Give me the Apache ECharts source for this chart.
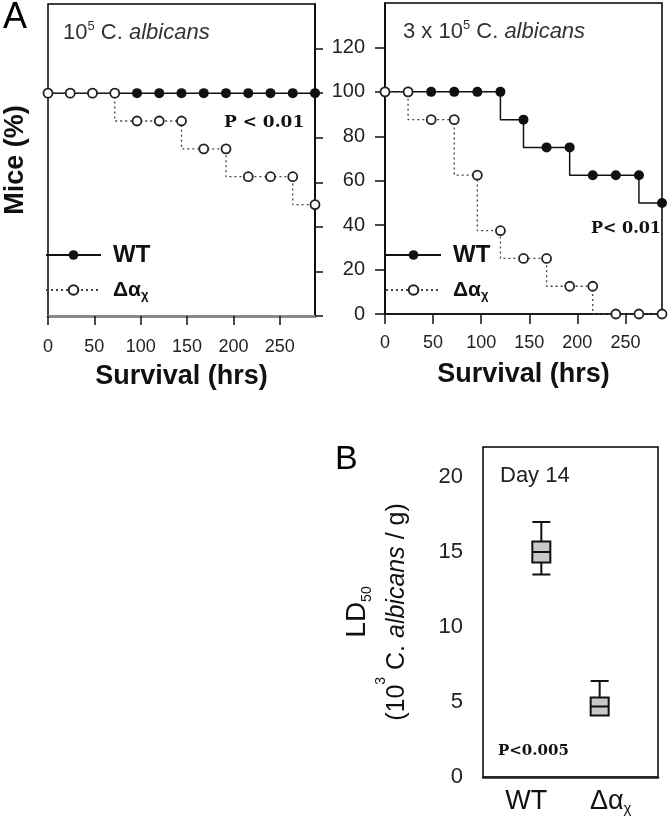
<!DOCTYPE html>
<html><head><meta charset="utf-8">
<script src="https://cdn.jsdelivr.net/npm/echarts@6/dist/echarts.min.js"></script>
<style>html,body{margin:0;padding:0;background:#fff}#c{width:669px;height:824px}</style>
</head><body><div id="c"></div>
<script>
// ---- data ----
const hours = [0, 24, 48, 72, 96, 120, 144, 168, 192, 216, 240, 264, 288];
const leftWT = [100, 100, 100, 100, 100, 100, 100, 100, 100, 100, 100, 100, 100];
const leftDelta = [100, 100, 100, 100, 87.5, 87.5, 87.5, 75, 75, 62.5, 62.5, 62.5, 50];
const rightWT = [100, 100, 100, 100, 100, 100, 87.5, 75, 75, 62.5, 62.5, 62.5, 50];
const rightDelta = [100, 100, 87.5, 87.5, 62.5, 37.5, 25, 25, 12.5, 12.5, 0, 0, 0];
const xTicks = [0, 50, 100, 150, 200, 250];
const yTicksA = [0, 20, 40, 60, 80, 100, 120];
const yTicksB = [0, 5, 10, 15, 20];
const boxCats = ['', 'WT', 'Δα', ''];
const boxWT = [13.5, 14.3, 15, 15.7, 17];
const boxDelta = [4.1, 4.1, 4.7, 5.3, 6.4];
const seriesNames = ['WT', 'Δα'];

const F = 'Liberation Sans, Arial, sans-serif';
const SERIF = 'DejaVu Serif, serif';
const pair = (xs, ys) => xs.map((x, i) => [x, ys[i]]);
const emptyBox = ['-', '-', '-', '-', '-'];

function wtSeries(xi, yi, data) {
  return {
    type: 'line', name: seriesNames[0], xAxisIndex: xi, yAxisIndex: yi,
    data: pair(hours, data), step: 'start', symbol: 'circle', symbolSize: 10,
    lineStyle: { color: '#111', width: 1.5 }, itemStyle: { color: '#111' },
    z: 2, clip: false, animation: false
  };
}
function deltaSeries(xi, yi, data) {
  return {
    type: 'line', name: seriesNames[1], xAxisIndex: xi, yAxisIndex: yi,
    data: pair(hours, data), step: 'start', symbol: 'circle', symbolSize: 9,
    lineStyle: { color: '#444', width: 1.3, type: [2, 3] },
    itemStyle: { color: '#fff', borderColor: '#222', borderWidth: 1.8 },
    z: 3, clip: false, animation: false
  };
}
function legend(left) {
  return {
    data: seriesNames, left: left, top: 243, orient: 'vertical', padding: 0,
    itemWidth: 55, itemHeight: 12, itemGap: 11, selectedMode: false,
    formatter: n => n === 'WT' ? '{w|WT}' : '{d|Δα}{s|χ}',
    textStyle: {
      padding: [0, 0, 0, 7], lineHeight: 24,
      rich: {
        w: { fontFamily: F, fontSize: 24, fontWeight: 'bold', color: '#111', lineHeight: 24 },
        d: { fontFamily: F, fontSize: 21, fontWeight: 'bold', color: '#111', lineHeight: 24 },
        s: { fontFamily: F, fontSize: 13, fontWeight: 'bold', color: '#111', verticalAlign: 'bottom', lineHeight: 14 }
      }
    }
  };
}
const labelStyle = (size) => ({ fontFamily: F, fontSize: size, color: '#222' });
const titleRich = {
  n: { fontFamily: F, fontSize: 22, fontWeight: 'normal', color: '#333', lineHeight: 26 },
  i: { fontFamily: F, fontSize: 22, fontWeight: 'normal', fontStyle: 'italic', color: '#333', lineHeight: 26 },
  sup: { fontFamily: F, fontSize: 13, fontWeight: 'normal', color: '#333', verticalAlign: 'top', lineHeight: 14 }
};

const option = {
  backgroundColor: '#fff',
  animation: false,
  title: [
    { text: 'A', left: 3, top: 0, padding: 0, textStyle: { fontFamily: F, fontSize: 36, fontWeight: 'normal', color: '#000' } },
    { text: 'B', left: 335, top: 443, padding: 0, textStyle: { fontFamily: F, fontSize: 34, fontWeight: 'normal', color: '#000' } },
    { text: '{n|10}{sup|5}{n| C. }{i|albicans}', left: 63, top: 20, padding: 0,
      textStyle: { fontWeight: 'normal', rich: titleRich } },
    { text: '{n|3 x 10}{sup|5}{n| C. }{i|albicans}', left: 403, top: 19, padding: 0,
      textStyle: { fontWeight: 'normal', rich: titleRich } },
    { text: 'P < 0.01', left: 224, top: 114, padding: 0, textStyle: { fontFamily: SERIF, fontSize: 17, fontWeight: 'bold', color: '#111' } },
    { text: 'P< 0.01', left: 591, top: 221, padding: 0, textStyle: { fontFamily: SERIF, fontSize: 16, fontWeight: 'bold', color: '#111' } },
    { text: 'Day 14', left: 500, top: 465, padding: 0, textStyle: { fontFamily: F, fontSize: 22, fontWeight: 'normal', color: '#222' } },
    { text: 'P<0.005', left: 498, top: 744, padding: 0, textStyle: { fontFamily: SERIF, fontSize: 15, fontWeight: 'bold', color: '#111' } }
  ],
  legend: [legend(45), legend(385)],
  grid: [
    { left: 45, top: 4, width: 270, height: 312, show: true, borderColor: '#000', borderWidth: 1.5, backgroundColor: 'transparent' },
    { left: 385, top: 3, width: 277, height: 311, show: true, borderColor: '#000', borderWidth: 1.5, backgroundColor: 'transparent' },
    { left: 483, top: 447, width: 175, height: 330, show: true, borderColor: '#000', borderWidth: 1.5, backgroundColor: 'transparent' }
  ],
  xAxis: [
    { type: 'value', gridIndex: 0, min: 0, max: 288, interval: 50,
      axisLine: { onZero: false, lineStyle: { color: '#8a8a8a', width: 3 } },
      axisTick: { length: 9, customValues: xTicks, lineStyle: { color: '#111', width: 1.5 } },
      axisLabel: Object.assign({ margin: 22, customValues: xTicks }, labelStyle(18)),
      splitLine: { show: false },
      name: 'Survival (hrs)', nameLocation: 'middle', nameGap: 46,
      nameTextStyle: { fontFamily: F, fontSize: 27, fontWeight: 'bold', color: '#111', lineHeight: 30 } },
    { type: 'value', gridIndex: 1, min: 0, max: 288, interval: 50,
      axisLine: { onZero: false, lineStyle: { color: '#111', width: 1.5 } },
      axisTick: { length: 10, customValues: xTicks, lineStyle: { color: '#111', width: 1.5 } },
      axisLabel: Object.assign({ margin: 20, customValues: xTicks }, labelStyle(18)),
      splitLine: { show: false },
      name: 'Survival (hrs)', nameLocation: 'middle', nameGap: 46,
      nameTextStyle: { fontFamily: F, fontSize: 27, fontWeight: 'bold', color: '#111', lineHeight: 30 } },
    { type: 'category', gridIndex: 2, data: boxCats, boundaryGap: false,
      axisLine: { onZero: false, lineStyle: { color: '#222', width: 2.5 } },
      axisTick: { show: false },
      axisLabel: { margin: 11, interval: 0,
        formatter: v => v === 'WT' ? '{w|WT}' : (v === '' ? '' : '{d|Δα}{s|χ}'),
        rich: {
          w: { fontFamily: F, fontSize: 27, color: '#111', lineHeight: 28, padding: [0, 30, 0, 0] },
          d: { fontFamily: F, fontSize: 27, color: '#111', lineHeight: 28, padding: [0, 0, 0, 22] },
          s: { fontFamily: F, fontSize: 15, color: '#111', verticalAlign: 'bottom', lineHeight: 16 } } },
      splitLine: { show: false } }
  ],
  yAxis: [
    { type: 'value', gridIndex: 0, position: 'right', min: 0, max: 140, interval: 20,
      axisLine: { onZero: false, lineStyle: { color: '#000', width: 1.5 } },
      axisTick: { length: 8, customValues: yTicksA, lineStyle: { color: '#111', width: 1.5 } },
      axisLabel: { show: false }, splitLine: { show: false } },
    { type: 'value', gridIndex: 0, position: 'left', min: 0, max: 140,
      axisLine: { show: false }, axisTick: { show: false }, axisLabel: { show: false }, splitLine: { show: false },
      name: 'Mice (%)', nameLocation: 'middle', nameRotate: 90, nameGap: 17,
      nameTextStyle: { fontFamily: F, fontSize: 27, fontWeight: 'bold', color: '#111', lineHeight: 30 } },
    { type: 'value', gridIndex: 1, position: 'left', min: 0, max: 140, interval: 20,
      axisLine: { onZero: false, lineStyle: { color: '#000', width: 1.5 } },
      axisTick: { length: 10, customValues: yTicksA, lineStyle: { color: '#111', width: 1.5 } },
      axisLabel: Object.assign({ margin: 20, customValues: yTicksA }, labelStyle(20)),
      splitLine: { show: false } },
    { type: 'value', gridIndex: 2, position: 'left', min: 0, max: 22, interval: 5,
      axisLine: { onZero: false, lineStyle: { color: '#000', width: 1.5 } },
      axisTick: { length: 9, customValues: yTicksB, lineStyle: { color: '#111', width: 1.5 } },
      axisLabel: Object.assign({ margin: 20, customValues: yTicksB }, labelStyle(22)),
      splitLine: { show: false },
      name: '{ld|LD}{s|50}\n{p|(10}{sup|3}{p| C. }{i|albicans}{p| / g)}',
      nameLocation: 'middle', nameRotate: 90, nameGap: 63,
      nameTextStyle: { align: 'center', rich: {
        ld: { fontFamily: F, fontSize: 28, color: '#111', lineHeight: 34 },
        s: { fontFamily: F, fontSize: 14, color: '#111', verticalAlign: 'bottom', lineHeight: 14 },
        p: { fontFamily: F, fontSize: 25, color: '#111', lineHeight: 46 },
        i: { fontFamily: F, fontSize: 25, fontStyle: 'italic', color: '#111', lineHeight: 46 },
        sup: { fontFamily: F, fontSize: 14, color: '#111', verticalAlign: 'top', lineHeight: 34 } } } }
  ],
  series: [
    wtSeries(0, 0, leftWT),
    deltaSeries(0, 0, leftDelta),
    wtSeries(1, 2, rightWT),
    deltaSeries(1, 2, rightDelta),
    { type: 'boxplot', xAxisIndex: 2, yAxisIndex: 3, boxWidth: [18, 18],
      data: [emptyBox, boxWT, boxDelta, emptyBox],
      itemStyle: { color: '#c8c8c8', borderColor: '#111', borderWidth: 2 },
      animation: false }
  ]
};
const chart = echarts.init(document.getElementById('c'), null, { renderer: 'canvas' });
chart.setOption(option);
</script></body></html>
